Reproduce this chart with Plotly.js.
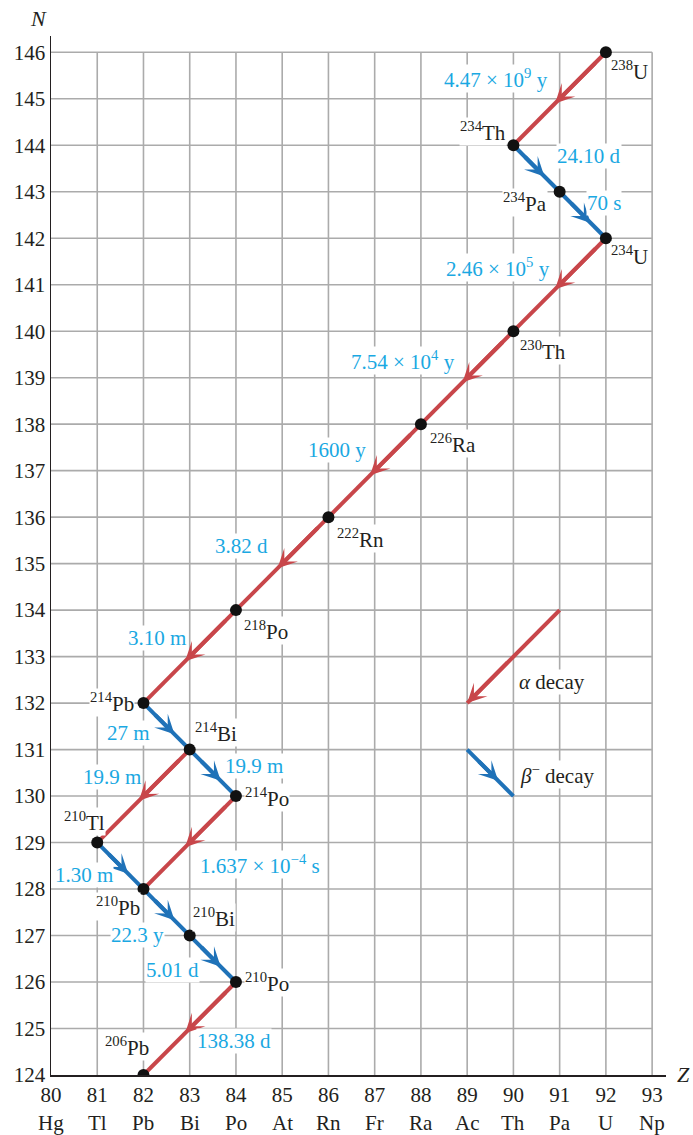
<!DOCTYPE html>
<html>
<head>
<meta charset="utf-8">
<script src="https://cdn.plot.ly/plotly-3.0.1.min.js"></script>
<style>html,body{margin:0;padding:0;background:#fff;}#chart{width:693px;height:1135px;}</style>
</head>
<body>
<div id="chart"></div>
<script>
// ---- data ----
const Z_TICKS = [80, 81, 82, 83, 84, 85, 86, 87, 88, 89, 90, 91, 92, 93];
const ELEMENTS = ['Hg', 'Tl', 'Pb', 'Bi', 'Po', 'At', 'Rn', 'Fr', 'Ra', 'Ac', 'Th', 'Pa', 'U', 'Np'];
const N_TICKS = [124, 125, 126, 127, 128, 129, 130, 131, 132, 133, 134, 135, 136, 137, 138, 139, 140, 141, 142, 143, 144, 145, 146];

const NUC_A   = [238, 234, 234, 234, 230, 226, 222, 218, 214, 214, 214, 210, 210, 210, 210, 206];
const NUC_SYM = ['U', 'Th', 'Pa', 'U', 'Th', 'Ra', 'Rn', 'Po', 'Pb', 'Bi', 'Po', 'Tl', 'Pb', 'Bi', 'Po', 'Pb'];
const NUC_Z   = [92, 90, 91, 92, 90, 88, 86, 84, 82, 83, 84, 81, 82, 83, 84, 82];
const NUC_N   = [146, 144, 143, 142, 140, 138, 136, 134, 132, 131, 130, 129, 128, 127, 126, 124];

const DECAY_FROM = [0, 1, 2, 3, 4, 5, 6, 7, 8, 9, 9, 10, 11, 12, 13, 14];
const DECAY_TO   = [1, 2, 3, 4, 5, 6, 7, 8, 9, 10, 11, 12, 12, 13, 14, 15];
const DECAY_TYPE = ['a', 'b', 'b', 'a', 'a', 'a', 'a', 'a', 'b', 'b', 'a', 'a', 'b', 'b', 'b', 'a'];
const HALF_LIFE  = ['4.47 × 10<sup>9</sup> y', '24.10 d', '70 s', '2.46 × 10<sup>5</sup> y',
  '7.54 × 10<sup>4</sup> y', '1600 y', '3.82 d', '3.10 m', '27 m', '19.9 m', '19.9 m',
  '1.637 × 10<sup>−4</sup> s', '1.30 m', '22.3 y', '5.01 d', '138.38 d'];

const KEY_ALPHA_Z = [91, 89];
const KEY_ALPHA_N = [134, 132];
const KEY_BETA_Z = [89, 90];
const KEY_BETA_N = [131, 130];
const KEY_LABELS = ['<i>α</i> decay', '<i>β</i><sup>−</sup> decay'];

// ---- styling / placement ----
const RED = '#c8464a', BLUE = '#1f72b8', CYAN = '#1aa8e2', INK = '#231f20', GRID = '#ababab';
const FONT = '"Liberation Serif", "Times New Roman", serif';
const FS = 21;
// [xanchor, xshift, yshift]
const NUC_LABEL_POS = [
  ['left', 4, -18], ['right', -6, 14], ['right', -12, -11], ['left', 4, -17],
  ['left', 6, -19], ['left', 8, -19], ['left', 8, -21], ['left', 7, -20],
  ['right', -8, 1], ['left', 4, 17], ['left', 8, -1], ['right', 9, 21],
  ['right', -2, -17], ['left', 2, 18], ['left', 8, 0], ['right', 7, 29]
];
const HL_SHIFT = [[-64, 20], [52, 12], [21, 12], [-62, 17], [-64, 17], [-38, 21], [-41, 18], [-33, 19],
  [-38, -7], [41, 7], [-31, 19], [70, -22], [-36, -9], [-29, -23], [-40, -11], [44, -12]];
const HEAD_FRAC = {a: 0.55, b: 0.67};

// ---- build traces ----
const lineX = {a: [], b: []}, lineY = {a: [], b: []};
DECAY_FROM.forEach((f, i) => {
  const t = DECAY_TO[i], k = DECAY_TYPE[i];
  lineX[k].push(NUC_Z[f], NUC_Z[t], null);
  lineY[k].push(NUC_N[f], NUC_N[t], null);
});
lineX.a.push(...KEY_ALPHA_Z, null); lineY.a.push(...KEY_ALPHA_N, null);
lineX.b.push(...KEY_BETA_Z, null); lineY.b.push(...KEY_BETA_N, null);

const traces = [
  {x: lineX.a, y: lineY.a, mode: 'lines', line: {color: RED, width: 4}, hoverinfo: 'skip'},
  {x: lineX.b, y: lineY.b, mode: 'lines', line: {color: BLUE, width: 4}, hoverinfo: 'skip'},
  {x: NUC_Z, y: NUC_N, mode: 'markers', marker: {color: '#111', size: 12}, hoverinfo: 'skip'}
];

// ---- annotations ----
const ann = [];
function head(x0, y0, x1, y1, frac, color) {
  const tx = x0 + (x1 - x0) * frac, ty = y0 + (y1 - y0) * frac;
  const back = Math.min(frac, 0.45);
  ann.push({x: tx, y: ty, ax: tx - (x1 - x0) * back, ay: ty - (y1 - y0) * back,
    xref: 'x', yref: 'y', axref: 'x', ayref: 'y', text: '', showarrow: true, standoff: 0, startstandoff: 0,
    arrowhead: 3, arrowsize: 0.8, arrowwidth: 4, arrowcolor: color, font: {size: 1}});
}
DECAY_FROM.forEach((f, i) => {
  const t = DECAY_TO[i], k = DECAY_TYPE[i];
  head(NUC_Z[f], NUC_N[f], NUC_Z[t], NUC_N[t], HEAD_FRAC[k], k === 'a' ? RED : BLUE);
});
DECAY_FROM.forEach((f, i) => {
  const t = DECAY_TO[i];
  ann.push({x: (NUC_Z[f] + NUC_Z[t]) / 2, y: (NUC_N[f] + NUC_N[t]) / 2, xref: 'x', yref: 'y',
    text: HALF_LIFE[i], showarrow: false, xanchor: 'center', yanchor: 'middle',
    xshift: HL_SHIFT[i][0], yshift: HL_SHIFT[i][1], bgcolor: '#fff', borderpad: 0,
    font: {family: FONT, size: FS, color: CYAN}});
});
head(KEY_ALPHA_Z[0], KEY_ALPHA_N[0], KEY_ALPHA_Z[1], KEY_ALPHA_N[1], 1.0, RED);
head(KEY_BETA_Z[0], KEY_BETA_N[0], KEY_BETA_Z[1], KEY_BETA_N[1], 0.67, BLUE);
ann.push({x: 90, y: 132.5, xref: 'x', yref: 'y', text: KEY_LABELS[0], showarrow: false,
  xanchor: 'left', yanchor: 'middle', xshift: 5, yshift: -2, bgcolor: '#fff', borderpad: 0,
  font: {family: FONT, size: FS, color: INK}});
ann.push({x: 90, y: 130.5, xref: 'x', yref: 'y', text: KEY_LABELS[1], showarrow: false,
  xanchor: 'left', yanchor: 'middle', xshift: 6, yshift: -2, bgcolor: '#fff', borderpad: 0,
  font: {family: FONT, size: FS, color: INK}});

NUC_A.forEach((a, i) => {
  const p = NUC_LABEL_POS[i];
  ann.push({x: NUC_Z[i], y: NUC_N[i], xref: 'x', yref: 'y',
    text: '<sup>' + a + '</sup>' + NUC_SYM[i], showarrow: false,
    xanchor: p[0], yanchor: 'middle', xshift: p[1], yshift: p[2],
    bgcolor: '#fff', borderpad: 0, font: {family: FONT, size: FS, color: INK}});
});

ELEMENTS.forEach((el, i) => {
  ann.push({x: Z_TICKS[i], y: 0, xref: 'x', yref: 'paper', text: el, showarrow: false,
    xanchor: 'center', yanchor: 'middle', yshift: -48, font: {family: FONT, size: FS, color: INK}});
});
ann.push({x: 0, y: 1, xref: 'paper', yref: 'paper', text: '<i>N</i>', showarrow: false,
  xanchor: 'center', yanchor: 'middle', xshift: -13, yshift: 18, font: {family: FONT, size: 22, color: INK}});
ann.push({x: 1, y: 0, xref: 'paper', yref: 'paper', text: '<i>Z</i>', showarrow: false,
  xanchor: 'center', yanchor: 'middle', xshift: 17, yshift: 1, font: {family: FONT, size: 22, color: INK}});

// ---- grid shapes ----
const shapes = [];
Z_TICKS.slice(1).forEach(z => shapes.push({type: 'line', xref: 'x', yref: 'y', x0: z, x1: z,
  y0: N_TICKS[0], y1: N_TICKS[N_TICKS.length - 1], layer: 'below', line: {color: GRID, width: 1.6}}));
N_TICKS.slice(1).forEach(n => shapes.push({type: 'line', xref: 'x', yref: 'y', x0: Z_TICKS[0],
  x1: Z_TICKS[Z_TICKS.length - 1], y0: n, y1: n, layer: 'below', line: {color: GRID, width: 1.6}}));

const layout = {
  width: 693, height: 1135,
  margin: {l: 51, r: 27, t: 36, b: 60},
  paper_bgcolor: '#fff', plot_bgcolor: '#fff',
  showlegend: false,
  font: {family: FONT, size: FS, color: INK},
  xaxis: {range: [80, 93.3], tickvals: Z_TICKS, ticktext: Z_TICKS.map(String), showgrid: false,
    zeroline: false, showline: true, linecolor: INK, linewidth: 1.5, ticks: '', fixedrange: true,
    tickfont: {family: FONT, size: FS, color: INK}},
  yaxis: {range: [124, 146.35], tickvals: N_TICKS, ticktext: N_TICKS.map(String), showgrid: false,
    zeroline: false, showline: true, linecolor: INK, linewidth: 1.5, ticks: '', fixedrange: true,
    tickfont: {family: FONT, size: FS, color: INK}},
  shapes: shapes,
  annotations: ann
};

Plotly.newPlot('chart', traces, layout, {staticPlot: true, displayModeBar: false});
</script>
</body>
</html>
